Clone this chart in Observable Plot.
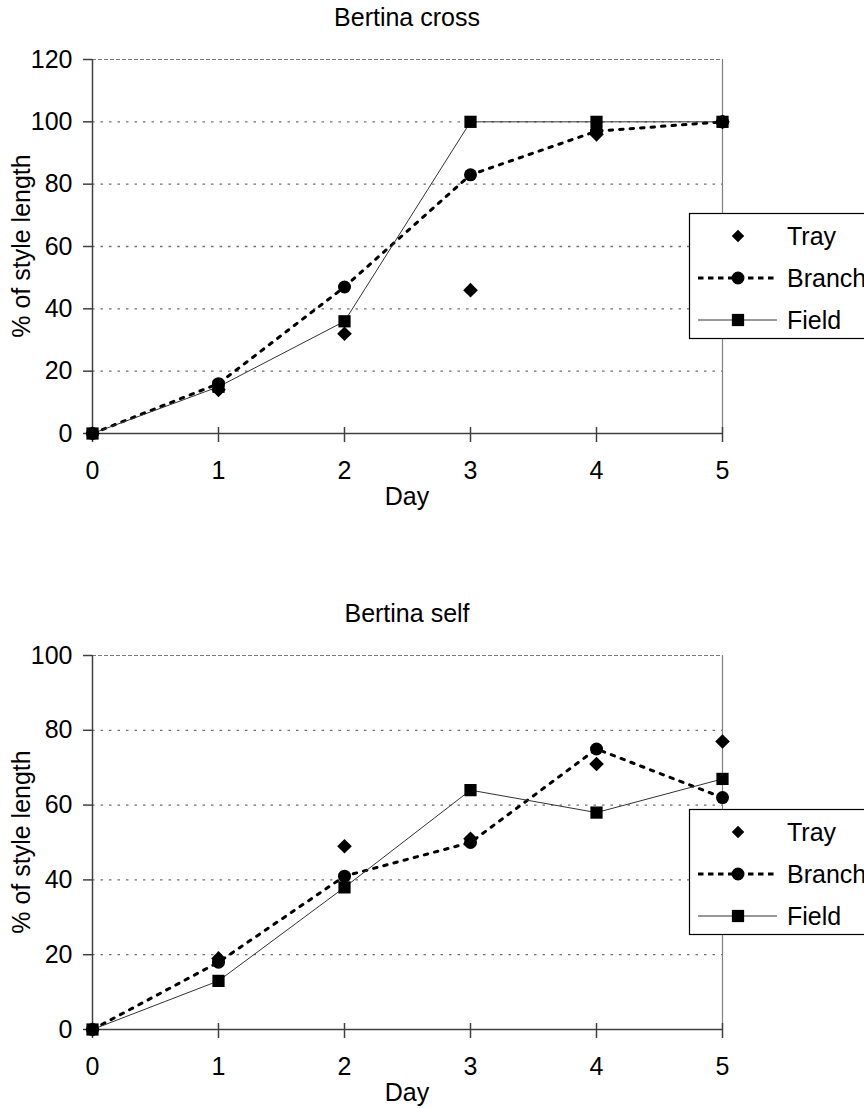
<!DOCTYPE html>
<html><head><meta charset="utf-8">
<script src="https://cdn.jsdelivr.net/npm/d3@7"></script>
<script src="https://cdn.jsdelivr.net/npm/@observablehq/plot@0.6"></script>
<style>
body{margin:0;background:#fff;}
#root{position:relative;width:864px;height:1108px;overflow:hidden;font-family:"Liberation Sans",Arial,Helvetica,sans-serif;}
.panel{position:absolute;left:0;width:864px;height:520px;}
.panel svg{position:absolute;left:0;top:0;}
</style></head><body><div id="root"></div>
<script>
const days = [0, 1, 2, 3, 4, 5];
const seriesNames = ["Tray", "Branch", "Field"];
const yLabel = "% of style length";
const xLabel = "Day";

const crossTitle = "Bertina cross";
const crossTray = [0, 14, 32, 46, 96, 100];
const crossBranch = [0, 16, 47, 83, 97, 100];
const crossField = [0, 15, 36, 100, 100, 100];
const crossTicks = [0, 20, 40, 60, 80, 100, 120];

const selfTitle = "Bertina self";
const selfTray = [0, 19, 49, 51, 71, 77];
const selfBranch = [0, 18, 41, 50, 75, 62];
const selfField = [0, 13, 38, 64, 58, 67];
const selfTicks = [0, 20, 40, 60, 80, 100];

const FONT = '"Liberation Sans", Arial, Helvetica, sans-serif';
const FS = 25;
const root = document.getElementById("root");

function chart(cfg, top) {
  const panel = document.createElement("div");
  panel.className = "panel";
  panel.style.top = top + "px";
  root.appendChild(panel);
  const rows = days.map((d, i) => ({day: d, tray: cfg.tray[i], branch: cfg.branch[i], field: cfg.field[i]}));
  const yMax = d3.max(cfg.ticks);
  const p = Plot.plot({
    width: 864, height: 520,
    marginLeft: 92, marginRight: 142, marginTop: 59, marginBottom: 87,
    x: {domain: [0, 5]},
    y: {domain: [0, yMax]},
    style: {fontFamily: FONT, fontSize: FS + "px", color: "black", background: "transparent", overflow: "visible"},
    marks: [
      Plot.ruleY(cfg.ticks.filter(t => t > 0 && t < yMax), {stroke: "#707070", strokeWidth: 1.3, strokeDasharray: "2.5,6"}),
      Plot.ruleY([yMax], {stroke: "#7a7a7a", strokeWidth: 1.2, strokeDasharray: "4,2"}),
      Plot.ruleX([5], {stroke: "#808080", strokeWidth: 1.2}),
      Plot.ruleX([0], {stroke: "#404040", strokeWidth: 1.5}),
      Plot.ruleY([0], {stroke: "#404040", strokeWidth: 1.5}),
      Plot.axisY({ticks: cfg.ticks, tickSize: 9, tickPadding: 11, tickFormat: d => String(d), label: null, stroke: "#404040", strokeWidth: 1.5}),
      Plot.axisX({ticks: days, tickSize: 9, tickPadding: 19, tickFormat: d => String(d), label: null, stroke: "#404040", strokeWidth: 1.5}),
      Plot.ruleX(days, {x: d => d, y1: 0, y2: 0, insetTop: -6, insetBottom: 0, stroke: "#404040", strokeWidth: 1.5}),
      Plot.line(rows, {x: "day", y: "branch", stroke: "black", strokeWidth: 3, strokeDasharray: "3.5,7"}),
      Plot.line(rows, {x: "day", y: "field", stroke: "#333", strokeWidth: 1}),
      Plot.dot(rows, {x: "day", y: "tray", symbol: "diamond2", r: 6.6, fill: "black", stroke: "none"}),
      Plot.dot(rows, {x: "day", y: "branch", symbol: "circle", r: 6.5, fill: "black", stroke: "none"}),
      Plot.dot(rows, {x: "day", y: "field", symbol: "square", r: 6.9, fill: "black", stroke: "none"})
    ]
  });
  panel.appendChild(p);

  const svg = d3.select(panel).append("svg")
    .attr("width", 864).attr("height", 520)
    .style("font-family", FONT).style("pointer-events", "none");
  svg.append("text").attr("x", 407).attr("y", 26).attr("text-anchor", "middle")
    .attr("font-size", FS).text(cfg.title);
  svg.append("text").attr("transform", "translate(30,246) rotate(-90)")
    .attr("text-anchor", "middle").attr("font-size", FS).text(yLabel);
  svg.append("text").attr("x", 407).attr("y", 505).attr("text-anchor", "middle")
    .attr("font-size", FS).text(xLabel);

  const lg = svg.append("g");
  lg.append("rect").attr("x", 689.5).attr("y", 213.5).attr("width", 220).attr("height", 125)
    .attr("fill", "white").attr("stroke", "black").attr("stroke-width", 1.2);
  const rowY = [236, 278, 320];
  const sym = [d3.symbol(d3.symbolDiamond2, 100), d3.symbol(d3.symbolCircle, Math.PI * 42), d3.symbol(d3.symbolSquare, 150)];
  seriesNames.forEach((name, i) => {
    const y = rowY[i];
    if (i === 1) lg.append("line").attr("x1", 698).attr("x2", 777).attr("y1", y).attr("y2", y)
      .attr("stroke", "black").attr("stroke-width", 2.8).attr("stroke-dasharray", "5.5,4.5");
    if (i === 2) lg.append("line").attr("x1", 698).attr("x2", 777).attr("y1", y).attr("y2", y)
      .attr("stroke", "#333").attr("stroke-width", 1);
    lg.append("path").attr("transform", `translate(738,${y})`).attr("d", sym[i]()).attr("fill", "black");
    lg.append("text").attr("x", 787).attr("y", y + 9).attr("font-size", FS).text(name);
  });
}

chart({title: crossTitle, tray: crossTray, branch: crossBranch, field: crossField, ticks: crossTicks}, 0);
chart({title: selfTitle, tray: selfTray, branch: selfBranch, field: selfField, ticks: selfTicks}, 596);
</script></body></html>
